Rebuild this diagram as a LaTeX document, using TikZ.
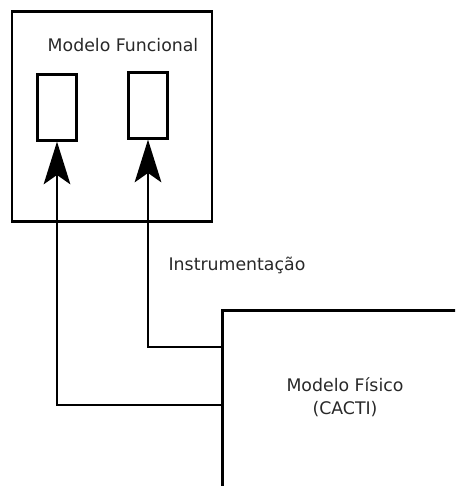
\documentclass[tikz,border=0pt]{standalone}
\usepackage{fontspec}
\setmainfont{DejaVu Sans}
\usetikzlibrary{arrows.meta, positioning}
\definecolor{textgray}{RGB}{40, 40, 40}
\tikzset{
    modelbox/.style={draw, line width=2.2pt, inner sep=0pt},
    slotbox/.style={draw, line width=2.2pt, minimum width=29pt, minimum height=49pt, inner sep=0pt},
    link/.style={line width=1.5pt, -{Stealth[length=32pt, width=20pt, inset=7pt]}},
    caption/.style={font=\fontsize{13}{17.5}\selectfont, text=textgray, align=center}
}

\begin{document}
\begin{tikzpicture}[x=0.75pt, y=-0.75pt]
    \useasboundingbox (0,0) rectangle (455,486);
    \clip (0,0) rectangle (455,486);

    % Modelo funcional
    \node[modelbox, minimum width=150pt, minimum height=157pt] (funcional) at (112,116.5) {};
    \node[caption] (tituloFuncional) at (123,45) {Modelo Funcional};
    \node[slotbox] (slotA) at (57,107.5) {};
    \node[slotbox] (slotB) at (148,105.5) {};

    % Modelo fisico
    \node[modelbox, anchor=north west, minimum width=220pt, minimum height=200pt] (fisico) at (221,309) {};
    \node[caption] (tituloFisico) at (345,397) {Modelo Físico\\(CACTI)};
    \coordinate (saidaA) at (221,405);
    \coordinate (saidaB) at (221,347);

    % Instrumentacao
    \draw[link] (saidaA) -| (slotA.south);
    \draw[link] (saidaB) -| (slotB.south);
    \node[caption] (instrumentacao) at (237,265) {Instrumentação};
\end{tikzpicture}
\end{document}
